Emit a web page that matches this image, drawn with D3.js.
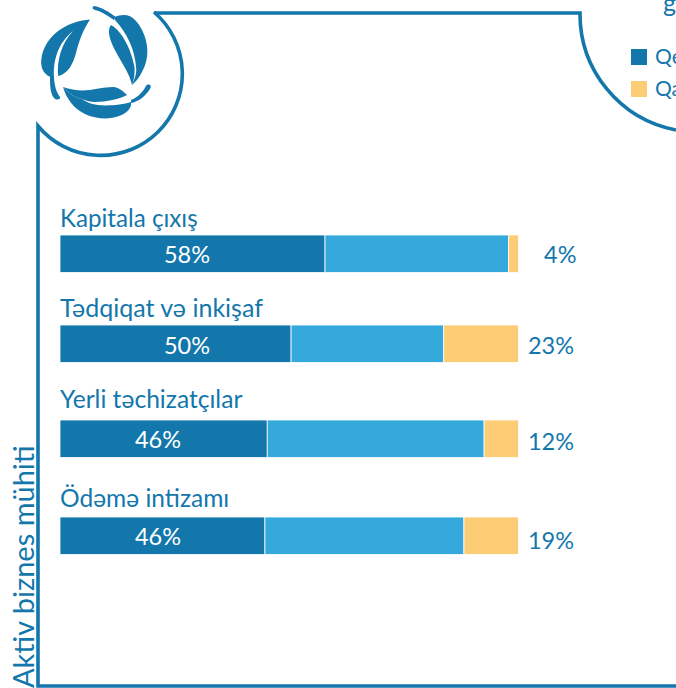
<!DOCTYPE html>
<html><head><meta charset="utf-8">
<script src="https://cdn.jsdelivr.net/npm/d3@7"></script>
<style>html,body{margin:0;padding:0;background:#fff;overflow:hidden}svg{display:block}text{font-family:Lato,"Open Sans",sans-serif}</style>
</head><body><svg id="c" width="676" height="688"></svg>
<script>
const categories = ["Kapitala çıxış","Tədqiqat və inkişaf","Yerli təchizatçılar","Ödəmə intizamı"];
const dark = [57.8,50.4,45.2,44.7];
const mid = [40,33.3,47.3,43.4];
const light = [2.2,16.3,7.5,11.9];
const darkLabels = ["58%","50%","46%","46%"];
const endLabels = ["4%","23%","12%","19%"];
const legendLabels = ["Qe","Qa"];
const blue="#1377ac", sky="#35a8dc", sand="#fccd75";
const svg=d3.select("#c");
const x=d3.scaleLinear().domain([0,100]).range([60,518.5]);
const y=d3.scaleOrdinal().domain(categories).range([235,325,420,517]);
const bh=37.5;
const nameY=[227,317,408,507], nameSize=[24.2,25,24.6,24.5], darkY=[263,354,448,545], endY=[263,354,450,549], darkX=[187,187,158,158];
const rows=categories.map((c,i)=>({c,i,segs:[
 {a:0,b:dark[i],f:blue},{a:dark[i],b:dark[i]+mid[i],f:sky},{a:dark[i]+mid[i],b:dark[i]+mid[i]+light[i],f:sand}]}));
const g=svg.selectAll("g.row").data(rows).join("g").attr("class","row");
g.selectAll("rect").data(d=>d.segs.map(s=>({...s,c:d.c}))).join("rect")
 .attr("x",d=>x(d.a)).attr("width",d=>x(d.b)-x(d.a)).attr("y",d=>y(d.c)).attr("height",bh)
 .attr("fill",d=>d.f).attr("stroke","#fff").attr("stroke-width",.8);
g.append("text").attr("x",60).attr("y",d=>nameY[d.i]).attr("font-size",d=>nameSize[d.i]).attr("fill",blue).text(d=>d.c);
g.append("text").attr("x",d=>darkX[d.i]).attr("y",d=>darkY[d.i]).attr("text-anchor","middle").attr("font-size",23.5).attr("fill","#fff").text(d=>darkLabels[d.i]);
g.append("text").attr("x",d=>d.i==0?576.5:574).attr("y",d=>endY[d.i]).attr("text-anchor","end").attr("font-size",23.5).attr("fill",blue).text(d=>endLabels[d.i]);
svg.append("text").attr("transform","translate(34,688) rotate(-90)").attr("font-size",29).attr("fill",blue).text("Aktiv biznes mühiti");
svg.append("text").attr("x",663).attr("y",12).attr("font-size",25).attr("fill",blue).text("g");
[[631,49,blue],[631,81,sand]].forEach((l,i)=>{
 svg.append("rect").attr("x",l[0]).attr("y",l[1]).attr("width",16).attr("height",16).attr("fill",l[2]);
 svg.append("text").attr("x",655).attr("y",l[1]+15).attr("font-size",21).attr("fill",blue).text(legendLabels[i]);
});
svg.append("path").attr("fill","none").attr("stroke",blue).attr("stroke-width",3.6)
 .attr("d","M154 13L580 13A118 118 0 0 0 676 130");
svg.append("path").attr("fill","none").attr("stroke",blue).attr("stroke-width",3.6)
 .attr("d","M154 12A81.6 81.6 0 1 1 38 126L38 686L676 686");
// logo
const logo=[
"M90 19.5C70 21 48 32 42 55C39 68 44 76 54 78C53 60 58 43 73 31C61 44 57 60 58 76C68 74 73 64 76 53C79 41 83 30 90 19.5Z",
"M50 76C50 84 50 93 54 98C57 101 61 99 60 97C56 92 54 84 54 76Z",
"M94 6C101 7 109 12 116 17L114 20C107 15 100 11 95 10C92 9 92 7 94 6Z",
"M115 17C122 14 130 14 136 21C145 31 150 48 146 62C143 72 138 80 132 85C135 78 137 73 136 67C135 50 127 33 115 20Z",
"M111 25C119 29 130 44 134.5 67C135 74 134 80 132 85C129 72 121 62 116 52C111 43 106 31 111 25Z",
"M63 87C72 90 80 91 90 90C100 88 108 87 114 87C120 88 124 92 127 95C120 99 106 102 95 102C90 102 85 100 82 99C76 98 69 94 63 87Z",
"M63 87C66 98 74 109 85 114C95 119 110 120 119 116C128 113 132 107 131 102C122 105 108 106 98 105C90 104 85 101 82 99C76 98 69 94 63 87Z",
"M131 100C137 98 143 92 146 86C148 83 152 85 150.5 88C146 96 138 102 131 103Z"];
svg.append("g").selectAll("path").data(logo).join("path").attr("fill",blue).attr("d",d=>d);
</script></body></html>
